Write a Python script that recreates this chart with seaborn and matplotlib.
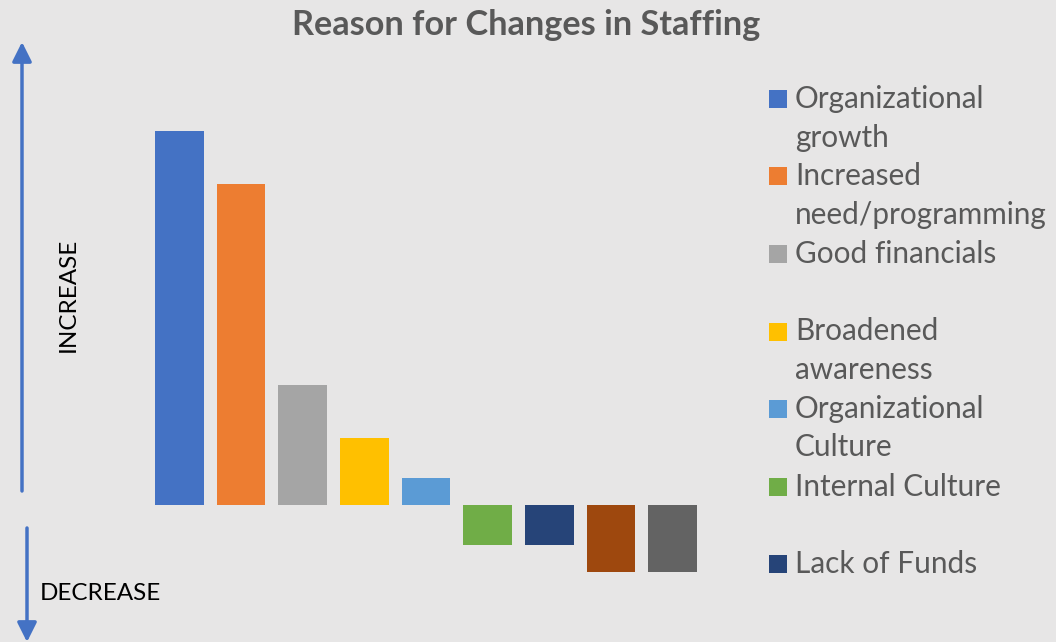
import matplotlib
matplotlib.use("Agg")
import matplotlib.pyplot as plt
import seaborn as sns
import pandas as pd
from matplotlib.patches import Rectangle, FancyArrowPatch

# ---- data ----
categories = [
    "Organizational growth",
    "Increased need/programming",
    "Good financials",
    "Broadened awareness",
    "Organizational Culture",
    "Internal Culture",
    "Lack of Funds",
    "Reason 8",
    "Reason 9",
]
values = [28, 24, 9, 5, 2, -3, -3, -5, -5]
colors = ["#4472C4", "#ED7D31", "#A5A5A5", "#FFC000", "#5B9BD5",
          "#70AD47", "#264478", "#9E480E", "#636363"]
legend_labels = [
    ["Organizational", "growth"],
    ["Increased", "need/programming"],
    ["Good financials"],
    ["Broadened", "awareness"],
    ["Organizational", "Culture"],
    ["Internal Culture"],
    ["Lack of Funds"],
]
title = "Reason for Changes in Staffing"

W, H = 1056, 642
BG = "#E7E6E6"
TXT = "#595959"
FONT = "Lato"

sns.set_theme(style="white")
plt.rcParams["font.family"] = [FONT, "DejaVu Sans"]

fig = plt.figure(figsize=(W / 100, H / 100), dpi=100, facecolor=BG)

# axes placement (pixel based)
ax_left, ax_right = 148.5, 703.5
ymin, ymax = -7, 35
scale = 13.36
base_px = 505
top_px = base_px - ymax * scale
bot_px = base_px - ymin * scale
ax = fig.add_axes([ax_left / W, (H - bot_px) / H, (ax_right - ax_left) / W, (bot_px - top_px) / H])
ax.set_facecolor(BG)

df = pd.DataFrame({"cat": categories, "val": values})
sns.barplot(data=df, x="cat", y="val", hue="cat", palette=colors,
            order=categories, hue_order=categories, dodge=False,
            width=0.79, saturation=1, legend=False, linewidth=0, ax=ax)
ax.set_xlim(-0.5, len(categories) - 0.5)
ax.set_ylim(ymin, ymax)
ax.set_xticks([])
ax.set_yticks([])
ax.set_xlabel("")
ax.set_ylabel("")
for s in ax.spines.values():
    s.set_visible(False)

def fy(ypx):
    return (H - ypx) / H

# title
fig.text(526.5 / W, fy(35), title, ha="center", va="baseline",
         fontsize=24.7, fontweight="bold", color=TXT)

# arrows
for (x0, y0, y1) in [(22, 491, 42), (27, 528, 642)]:
    fig.add_artist(FancyArrowPatch(
        (x0 / W, fy(y0)), (x0 / W, fy(y1)), transform=fig.transFigure,
        arrowstyle="-|>,head_length=6,head_width=3", mutation_scale=1.95,
        color="#4472C4", lw=2.5, shrinkA=0, shrinkB=0))

fig.text(68 / W, fy(295), "INCREASE", rotation=90, ha="center", va="center",
         fontsize=17.5, color="black")
fig.text(40 / W, fy(600.5), "DECREASE", ha="left", va="baseline",
         fontsize=17.5, color="black")

# legend (manual, two-line slots as in the original)
slot0 = 99
slot_h = 77.5
line_h = 38.5
for i, lines in enumerate(legend_labels):
    cy = slot0 + i * slot_h
    fig.add_artist(Rectangle((769 / W, fy(cy + 9)), 18 / W, 18 / H,
                             transform=fig.transFigure, color=colors[i], lw=0))
    for j, ln in enumerate(lines):
        fig.text(795 / W, fy(cy + 9 + j * line_h), ln, ha="left", va="baseline",
                 fontsize=21.4, color=TXT)

fig.savefig("out.png", dpi=100, facecolor=BG)
